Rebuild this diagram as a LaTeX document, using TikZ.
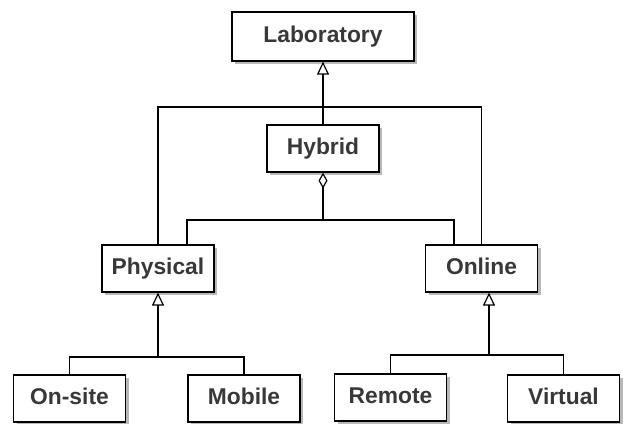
\documentclass[tikz,border=0pt]{standalone}
\usepackage{fontspec}
\setmainfont{Liberation Sans}
\usetikzlibrary{arrows.meta,shadows}

\def\Lab{Laboratory}
\def\Hyb{Hybrid}
\def\Phys{Physical}
\def\Onl{Online}
\def\Site{On-site}
\def\Mob{Mobile}
\def\Rem{Remote}
\def\Virt{Virtual}

\begin{document}
\begin{tikzpicture}[x=1pt,y=-1pt,line width=1.2pt,
  every node/.style={font=\bfseries\fontsize{22.8}{26}\selectfont,text=black!78},
  box/.style={draw,fill=white,inner sep=0pt,text height=16pt,text depth=4pt,
    minimum width=112pt,minimum height=47pt,
    drop shadow={shadow xshift=3pt,shadow yshift=-3pt,fill=black!28,opacity=1}},
  gen/.style={-{Triangle[open,length=13pt,width=12pt]}},
  agg/.style={-{Diamond[open,length=16pt,width=9pt]}},]

\useasboundingbox (0,0) rectangle (623,423);

% Classes
\node[box,minimum width=182pt,minimum height=49pt] (\Lab) at (323,36.5) {\Lab};
\node[box] (\Hyb) at (323,148.5) {\Hyb};
\node[box] (\Phys) at (158,268.5) {\Phys};
\node[box] (\Onl) at (481.5,268.5) {\Onl};
\node[box] (\Site) at (69.5,398.5) {\Site};
\node[box] (\Mob) at (244,398.5) {\Mob};
\node[box] (\Rem) at (390.5,397.5) {\Rem};
\node[box] (\Virt) at (563.5,398.5) {\Virt};

% Join points
\coordinate (lab join) at (323,107);
\coordinate (hyb join) at (323,220);
\coordinate (phys join) at (158,357);
\coordinate (onl join) at (489,355);

% Generalisation (Laboratory)
\draw[gen] (lab join) -- (\Lab);
\draw (\Hyb) -- (lab join);
\draw (\Phys.north) |- (lab join) -| (\Onl.north);

% Generalisation (Physical, Online)
\draw[gen] (phys join) -- (\Phys);
\draw (\Site.north) |- (phys join) -| (\Mob.north);
\draw[gen] (onl join) -- (onl join |- \Onl.south);
\draw (\Rem.north) |- (onl join) -| (\Virt.north);

% Aggregation (Hybrid)
\draw[agg] (hyb join) -- (\Hyb);
\draw ([xshift=29pt]\Phys.north) |- (hyb join) -| ([xshift=-27.5pt]\Onl.north);

\end{tikzpicture}
\end{document}
